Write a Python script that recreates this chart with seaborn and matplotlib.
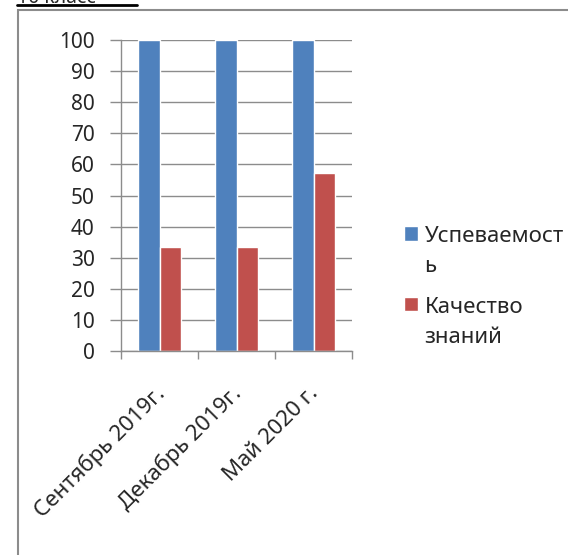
import seaborn as sns
import pandas as pd
import matplotlib.pyplot as plt
from matplotlib.lines import Line2D
from matplotlib.patches import Rectangle

periods = ["Сентябрь 2019г.", "Декабрь 2019г.", "Май 2020 г."]
uspevaemost = [100, 100, 100]
kachestvo = [33.3, 33.3, 57.1]
series_names = ["Успеваемость", "Качество знаний"]
legend_labels = ["Успеваемост\nь", "Качество\nзнаний"]
yticks = [0, 10, 20, 30, 40, 50, 60, 70, 80, 90, 100]

df = pd.DataFrame({"period": periods * 2,
                   "value": uspevaemost + kachestvo,
                   "series": [series_names[0]] * 3 + [series_names[1]] * 3})

sns.set_theme(style="white")
plt.rcParams["font.family"] = ["Noto Sans", "DejaVu Sans"]

fig = plt.figure(figsize=(5.68, 5.55), dpi=100)
ax = fig.add_axes([121 / 568, 1 - 351 / 555, 231 / 568, 311 / 555])

sns.barplot(data=df, x="period", y="value", hue="series", order=periods,
            hue_order=series_names, palette=["#4F81BD", "#C0504D"],
            width=0.57, gap=0, saturation=1, ax=ax, legend=True)

ax.set_ylim(0, 100)
ax.set_xlim(-0.5, 2.5)
ax.set_yticks(yticks)
ax.yaxis.grid(True, color="#8c8c8c", lw=1)
ax.set_axisbelow(True)
ax.set(xlabel="", ylabel="")
for s in ["top", "right"]:
    ax.spines[s].set_visible(False)
for s in ["left", "bottom"]:
    ax.spines[s].set_color("#8c8c8c")
    ax.spines[s].set_linewidth(1)

ax.tick_params(axis="y", length=8, width=1, color="#8c8c8c", pad=11,
               labelsize=15, direction="out", left=True)
ax.set_xticks([-0.5, 0.5, 1.5, 2.5], minor=True)
ax.tick_params(axis="x", which="minor", length=6, width=1, color="#8c8c8c",
               bottom=True)
ax.tick_params(axis="x", which="major", length=0, pad=27, labelsize=16)
for lab in ax.get_xticklabels():
    lab.set_rotation(45)
    lab.set_ha("right")
    lab.set_va("center_baseline")
    lab.set_rotation_mode("anchor")

handles, _ = ax.get_legend_handles_labels()
leg = ax.legend(handles, legend_labels, loc="upper left",
                bbox_to_anchor=(393 / 568, 1 - 215 / 555),
                bbox_transform=fig.transFigure, frameon=False,
                fontsize=16, handlelength=0.62, handleheight=0.62,
                handletextpad=0.3, labelspacing=0.9, borderpad=0)
for t in leg.get_texts():
    t.set_linespacing(1.55)
# square next to the first line of each entry, as in the original
for col in leg._legend_handle_box.get_children():
    for item in col.get_children():
        item.align = "top"

# outer chart frame and cut-off heading
fig.add_artist(Rectangle((18 / 568, -0.1), 1.2, 1 - 10 / 555 + 0.1,
                         transform=fig.transFigure, fill=False,
                         edgecolor="#8c8c8c", lw=1.5))
fig.text(17 / 568, 1 - 3 / 555, "10 класс", fontsize=14, fontweight="bold",
         va="baseline", ha="left")
fig.add_artist(Line2D([17 / 568, 137 / 568], [1 - 5 / 555] * 2,
                      transform=fig.transFigure, color="black", lw=2))

fig.savefig("out.png", dpi=100)
